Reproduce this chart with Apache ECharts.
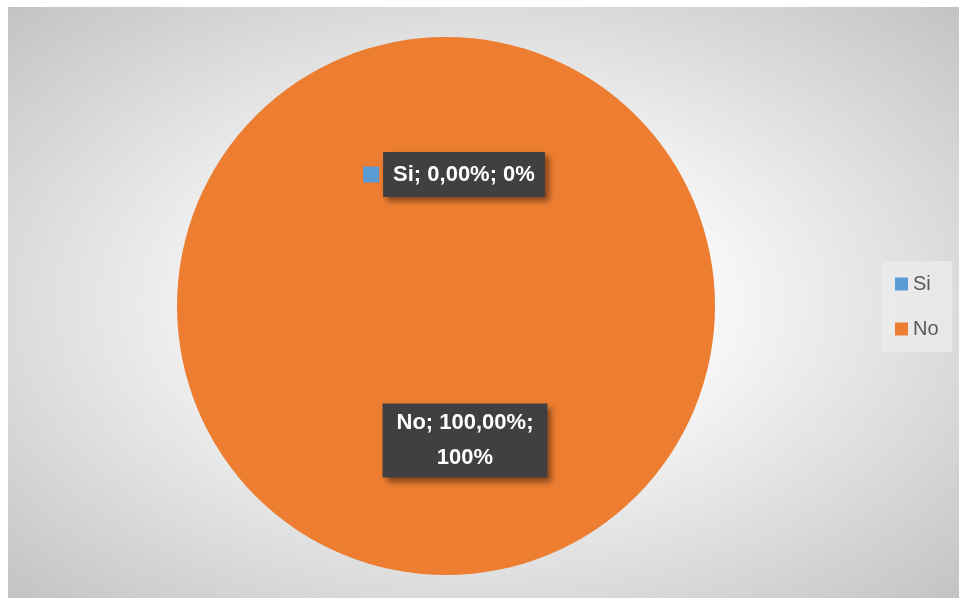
<!DOCTYPE html>
<html>
<head>
<meta charset="utf-8">
<script src="https://cdn.jsdelivr.net/npm/echarts@6/dist/echarts.min.js"></script>
<style>
  html, body { margin: 0; padding: 0; background: #ffffff; width: 959px; height: 598px; overflow: hidden; }
  #bg {
    position: absolute; left: 8px; top: 7px; width: 951px; height: 591px;
    background: radial-gradient(ellipse farthest-corner at 50% 50%, #ffffff 0%, #fbfbfb 30%, #c3c3c3 100%);
  }
  #chart { position: absolute; left: 0; top: 0; width: 959px; height: 598px; }
</style>
</head>
<body>
<div id="bg"></div>
<div id="chart"></div>
<script>
// Answers to the question, with their counts
const categories = ['Si', 'No'];
const values = [0, 100];
const colors = ['#5B9BD5', '#ED7D31'];

const total = values.reduce((a, b) => a + b, 0);

function fmtPct(v) {
  return (total ? (v / total) * 100 : 0).toFixed(2).replace('.', ',') + '%';
}

const boxStyle = {
  backgroundColor: '#404040',
  shadowColor: 'rgba(0,0,0,0.45)',
  shadowBlur: 6,
  shadowOffsetX: 4,
  shadowOffsetY: 4
};

const data = categories.map((name, i) => {
  const item = { name: name, value: values[i], itemStyle: { color: colors[i] } };
  if (i === 0) {
    item.label = {
      formatter: (p) => '{k|}{g|}{t|' + p.name + '; ' + fmtPct(p.value) + '; ' + p.value + '%}',
      rich: {
        k: { width: 16, height: 16, backgroundColor: colors[0] },
        g: { width: 4 },
        t: Object.assign({
          color: '#ffffff', fontFamily: 'Liberation Sans, Arial, sans-serif',
          fontWeight: 'bold', fontSize: 22, lineHeight: 45, height: 45, padding: [0, 10]
        }, boxStyle)
      }
    };
  } else {
    item.label = Object.assign({
      formatter: (p) => p.name + '; ' + fmtPct(p.value) + ';\n' + p.value + '%',
      color: '#ffffff', fontFamily: 'Liberation Sans, Arial, sans-serif',
      fontWeight: 'bold', fontSize: 22, lineHeight: 35, padding: [2, 14],
      align: 'center'
    }, boxStyle);
  }
  return item;
});

const chart = echarts.init(document.getElementById('chart'), null, { renderer: 'canvas' });
chart.setOption({
  animation: false,
  backgroundColor: 'transparent',
  legend: {
    orient: 'vertical',
    left: 882,
    top: 261,
    padding: [13, 14, 13, 13],
    backgroundColor: 'rgba(240,240,240,0.6)',
    itemWidth: 13,
    itemHeight: 13,
    itemGap: 25,
    icon: 'rect',
    textStyle: { color: '#595959', fontSize: 20, fontFamily: 'Liberation Sans, Arial, sans-serif' },
    data: categories
  },
  series: [{
    type: 'pie',
    center: [446, 306],
    radius: [0, 269],
    startAngle: 90,
    clockwise: true,
    minShowLabelAngle: 0,
    avoidLabelOverlap: false,
    label: { show: true, position: 'inside' },
    labelLine: { show: false },
    labelLayout: (p) => p.dataIndex === 0 ? { dx: 8, dy: 6 } : { dx: 19, dy: -3 },
    emphasis: { disabled: true },
    data: data
  }]
});
</script>
</body>
</html>
